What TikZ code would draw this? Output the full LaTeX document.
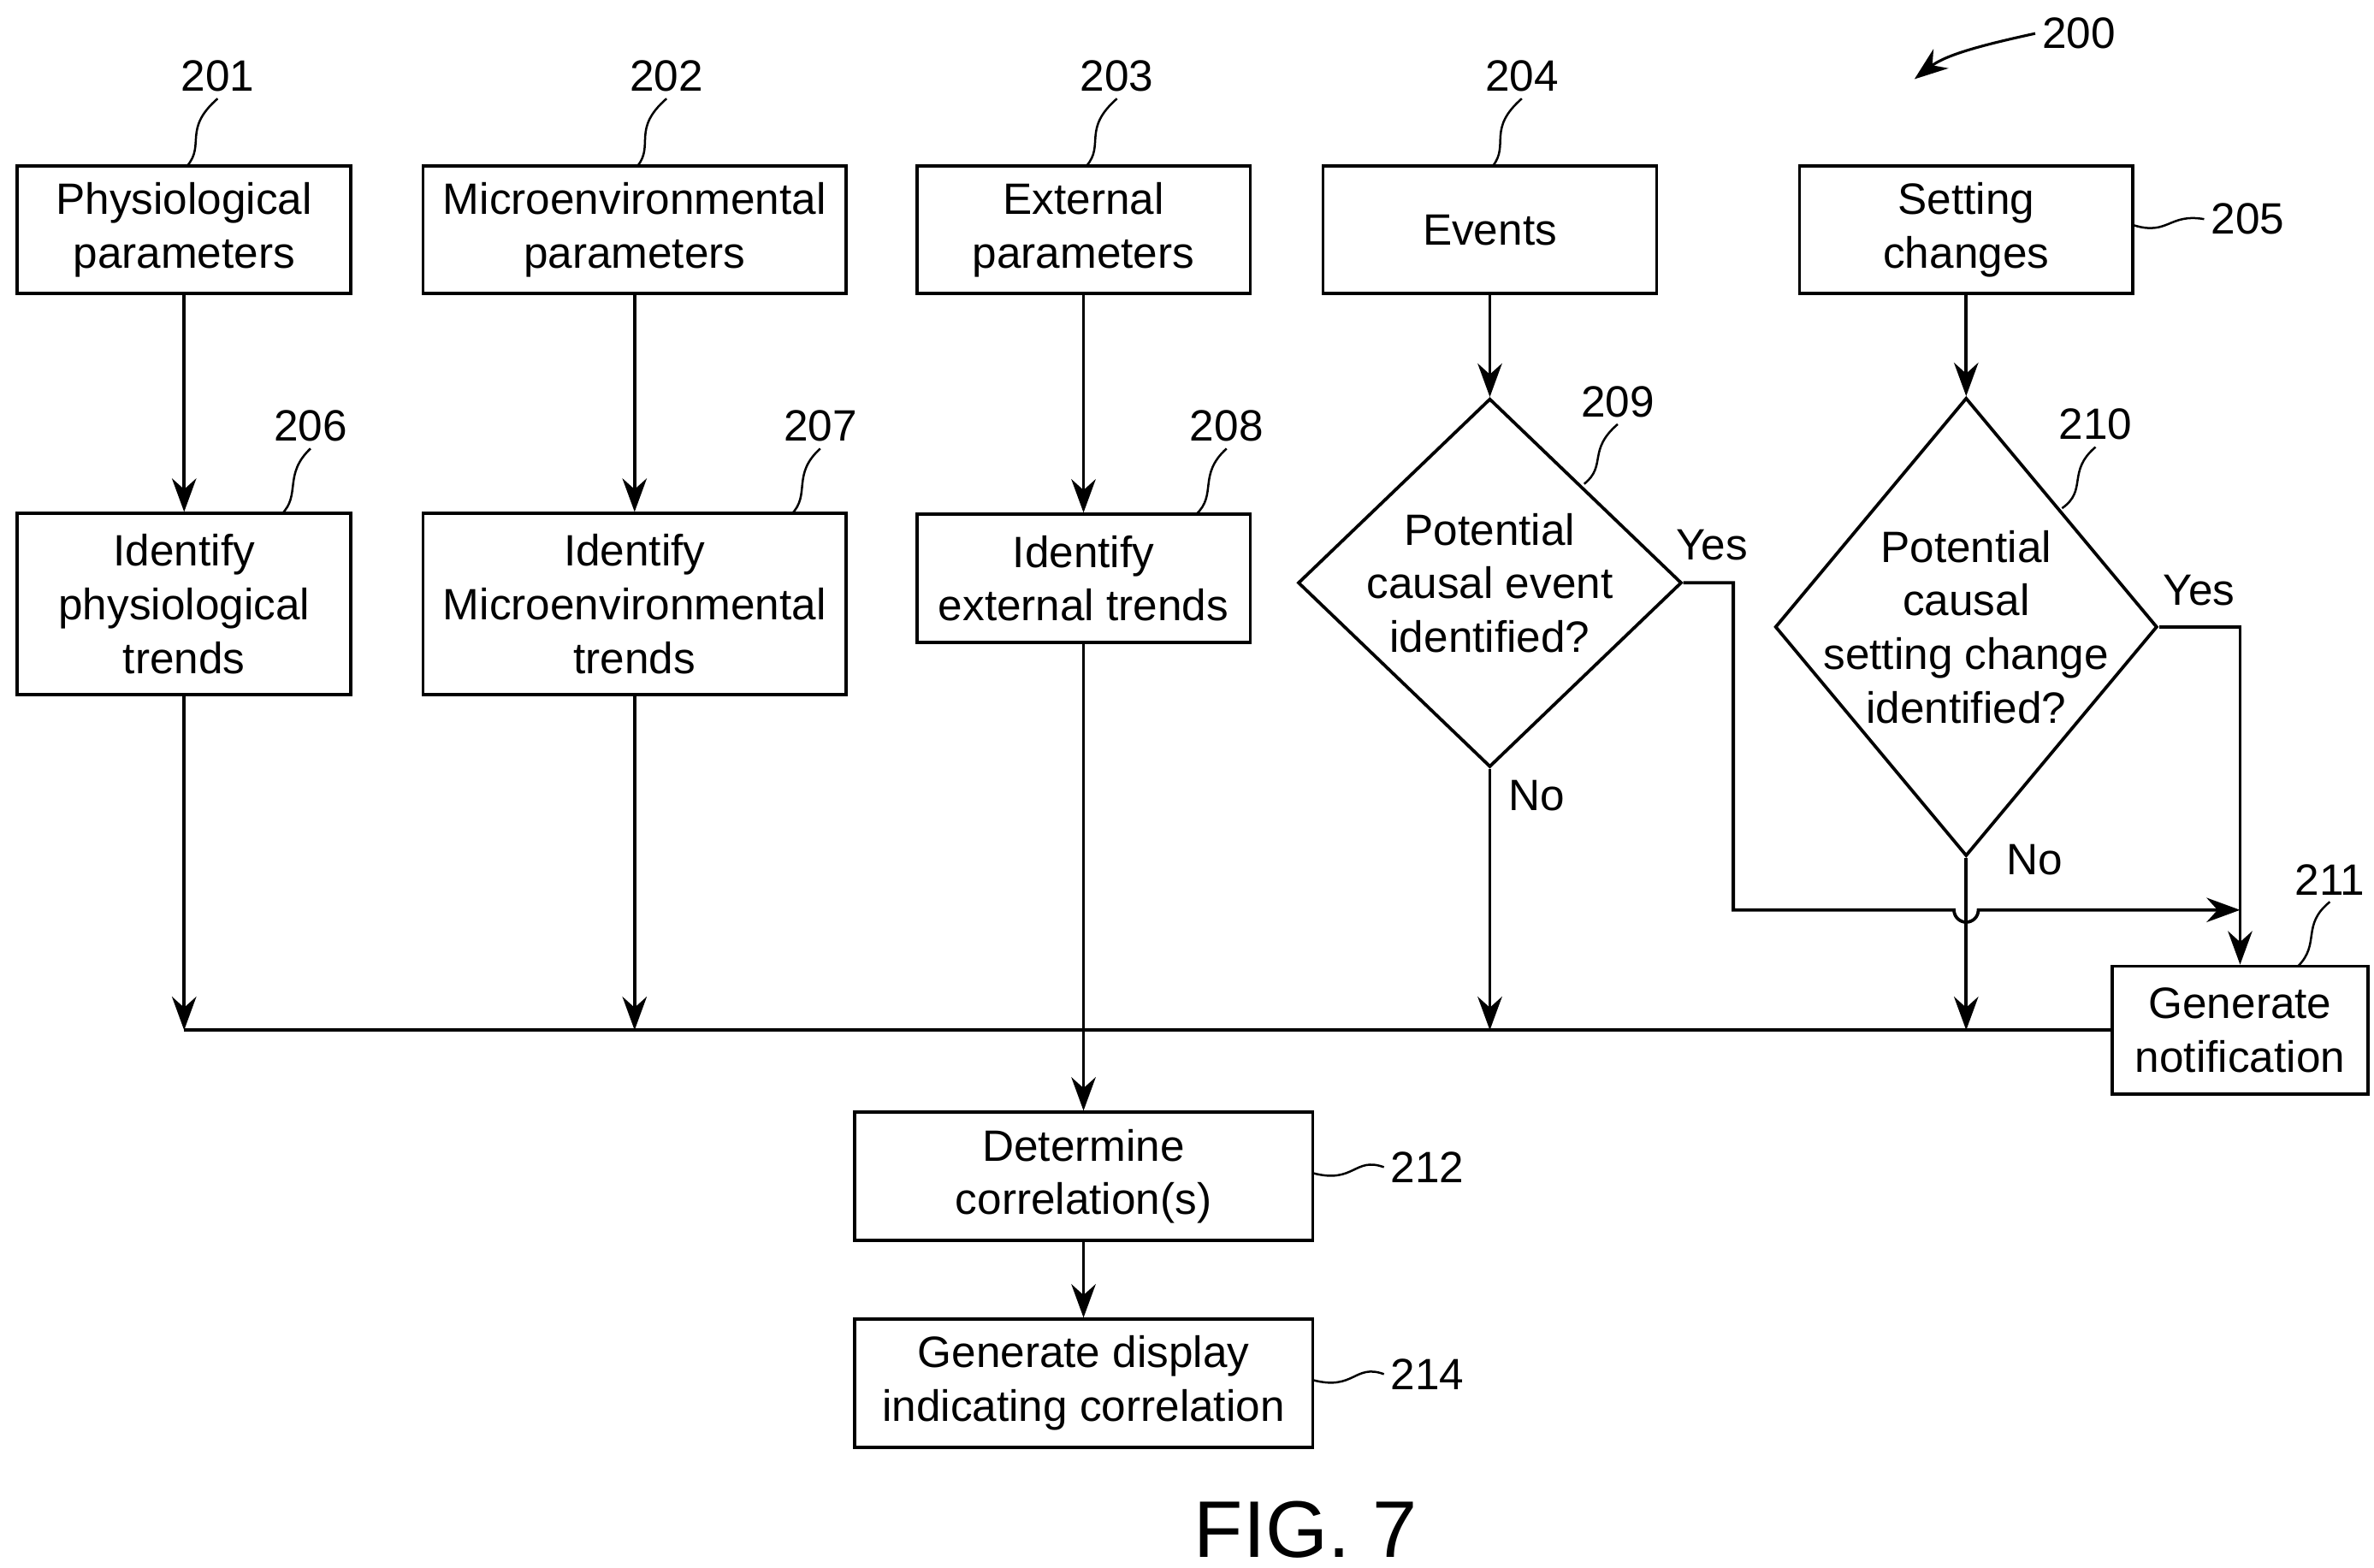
\documentclass[tikz,border=0pt]{standalone}
\usepackage{fontspec}
\setmainfont{Liberation Sans}
\usetikzlibrary{shapes.geometric,positioning,arrows.meta,calc}
\begin{document}
\begin{tikzpicture}[
    x=0.01cm, y=-0.01cm,
    line width=0.6pt,
    >={Stealth[black, length=2.2mm, width=1.6mm]},
    font=\fontsize{8.2}{10}\selectfont,
    stepbox/.style={
        rectangle, draw=black, align=center, inner sep=0pt,
        minimum width=2.19cm, minimum height=0.84cm
      },
    decision/.style={
        diamond, draw=black, align=center, inner sep=-5pt
      },
    refnum/.style={inner sep=1pt},
  ]
  \useasboundingbox (0,0) rectangle (1560,1030);
  % top row
  \node[stepbox] (phys) at (121,151) {Physiological\\parameters};
  \node[stepbox, minimum width=2.78cm] (micro) at (417,151) {Microenvironmental\\parameters};
  \node[stepbox] (ext) at (712,151) {External\\parameters};
  \node[stepbox] (events) at (979,151) {Events};
  \node[stepbox] (setting) at (1292,151) {Setting\\changes};
  % second row
  \node[stepbox, minimum height=1.19cm] (physT) at (121,397) {Identify\\physiological\\trends};
  \node[stepbox, minimum width=2.78cm, minimum height=1.19cm] (microT) at (417,397) {Identify\\Microenvironmental\\trends};
  \node[stepbox] (extT) at (712,380) {Identify\\external trends};
  \node[decision, minimum width=2.52cm, minimum height=2.42cm] (evQ) at (979,383) {Potential\\causal event\\identified?};
  \node[decision, inner sep=-9pt, minimum width=2.51cm, minimum height=3.01cm] (setQ) at (1292,412) {Potential\\causal\\setting change\\identified?};
  % lower part
  \node[stepbox, minimum width=1.68cm] (notify) at (1472,677) {Generate\\notification};
  \node[stepbox, minimum width=3.01cm] (corr) at (712,773) {Determine\\correlation(s)};
  \node[stepbox, minimum width=3.01cm] (disp) at (712,909) {Generate display\\indicating correlation};
  \node[font=\fontsize{15}{18}\selectfont] (fig) at (858,1005) {FIG. 7};

  % bus and corners
  \coordinate (busL) at (121,677);
  \coordinate (yesA) at (1139,383);
  \coordinate (yesB) at (1139,598);
  \coordinate (jumpL) at (1284,598);
  \coordinate (yesEnd) at (1472,598);
  \coordinate (yesC) at (1472,412);

  \draw[->] (phys) -- (physT);
  \draw[->] (micro) -- (microT);
  \draw[->] (ext) -- (extT);
  \draw[->] (events) -- (evQ);
  \draw[->] (setting) -- (setQ);
  \draw (busL) -- (notify.west);
  \draw[->] (physT) -- (busL);
  \draw[->] (microT) -- (microT |- busL);
  \draw[->] (evQ.south) -- (evQ |- busL);
  \draw[->] (setQ.south) -- (setQ |- busL);
  \draw[->] (extT) -- (corr);
  \draw[->] (corr) -- (disp);
  \draw[->] (evQ.east) -- (yesA) -- (yesB) -- (jumpL) arc(180:0:8) -- (yesEnd);
  \draw[->] (setQ.east) -- (yesC) -- (notify.north);

  % yes / no
  \node (yes1) at (1125,358) {Yes};
  \node (no1) at (1010,523) {No};
  \node (yes2) at (1445,388) {Yes};
  \node (no2) at (1337,565) {No};

  % reference numerals
  \node[refnum] (n201) at (143,50) {201};
  \node[refnum] (n202) at (438,50) {202};
  \node[refnum] (n203) at (734,50) {203};
  \node[refnum] (n204) at (1000,50) {204};
  \node[refnum] (n205) at (1477,144) {205};
  \node[refnum] (n206) at (204,280) {206};
  \node[refnum] (n207) at (539,280) {207};
  \node[refnum] (n208) at (806,280) {208};
  \node[refnum] (n209) at (1063,264) {209};
  \node[refnum] (n210) at (1377,279) {210};
  \node[refnum] (n211) at (1531,578) {211};
  \node[refnum] (n212) at (938,767) {212};
  \node[refnum] (n214) at (938,903) {214};
  \node[refnum] (n200) at (1366,22) {200};
  \coordinate (tip200) at (1258,52);

  \draw[line width=0.4pt] (n201.south) .. controls (120,85) and (135,95) .. (123,109);
  \draw[line width=0.4pt] (n202.south) .. controls (415,85) and (430,95) .. (419,109);
  \draw[line width=0.4pt] (n203.south) .. controls (711,85) and (726,95) .. (714,109);
  \draw[line width=0.4pt] (n204.south) .. controls (977,85) and (992,95) .. (981,109);
  \draw[line width=0.4pt] (n205.west) .. controls (1425,140) and (1425,155) .. (1402,148);
  \draw[line width=0.4pt] (n206.south) .. controls (186,312) and (198,325) .. (185,338);
  \draw[line width=0.4pt] (n207.south) .. controls (520,312) and (533,325) .. (520,338);
  \draw[line width=0.4pt] (n208.south) .. controls (787,312) and (800,325) .. (786,338);
  \draw[line width=0.4pt] (n209.south) .. controls (1043,296) and (1056,306) .. (1041,318);
  \draw[line width=0.4pt] (n210.south) .. controls (1358,310) and (1372,322) .. (1355,334);
  \draw[line width=0.4pt] (n211.south) .. controls (1512,608) and (1525,620) .. (1510,635);
  \draw[line width=0.4pt] (n212.west) .. controls (890,760) and (890,778) .. (863,771);
  \draw[line width=0.4pt] (n214.west) .. controls (890,896) and (890,914) .. (863,907);
  \draw[->, line width=0.5pt] (n200.west) .. controls (1310,28) and (1280,35) .. (tip200);
\end{tikzpicture}
\end{document}
